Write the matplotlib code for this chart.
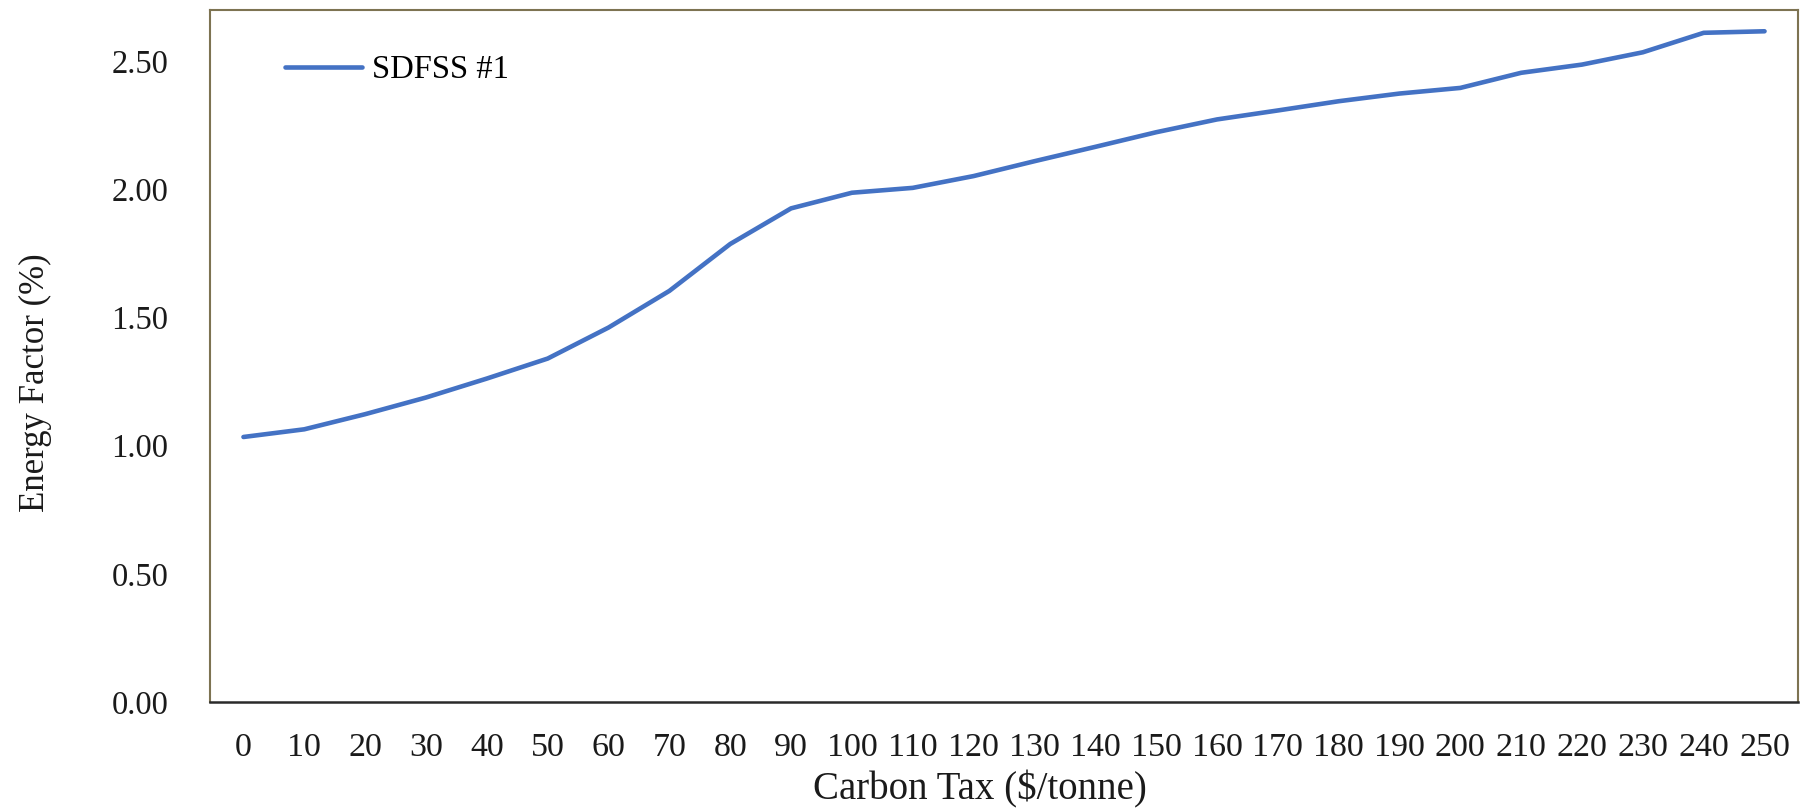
import matplotlib
matplotlib.use("Agg")
import matplotlib.pyplot as plt

carbon_tax = list(range(0, 251, 10))
tick_labels = [str(v) for v in carbon_tax]
energy_factor = [1.034, 1.064, 1.123, 1.188, 1.262, 1.340, 1.461, 1.604, 1.787,
                 1.926, 1.987, 2.006, 2.052, 2.110, 2.166, 2.223, 2.273, 2.308,
                 2.344, 2.374, 2.396, 2.455, 2.487, 2.535, 2.611, 2.617]
y_ticks = [0.0, 0.5, 1.0, 1.5, 2.0, 2.5]
series_name = "SDFSS #1"

plt.rcParams['font.family'] = ['Liberation Serif', 'DejaVu Serif']

W, H = 1801, 809
fig = plt.figure(figsize=(W / 100, H / 100), dpi=100)
ax = fig.add_axes([210 / W, 1 - 702 / H, (1798 - 210) / W, (702 - 10) / H])

x = list(range(len(carbon_tax)))
ax.plot(x, energy_factor, color='#4472C4', lw=3.3, label=series_name,
        solid_capstyle='round', solid_joinstyle='round')

ax.set_xlim(-0.55, len(carbon_tax) - 1 + 0.55)
ax.set_ylim(0, 2.70)
ax.set_xticks(x)
ax.set_xticklabels(tick_labels)
ax.set_yticks(y_ticks)
ax.set_yticklabels([f"{v:.2f}" for v in y_ticks])
ax.tick_params(axis='both', length=0, colors='#1a1a1a')
ax.tick_params(axis='x', pad=22, labelsize=24.5)
ax.tick_params(axis='y', pad=30, labelsize=23.5)

for side in ['top', 'left', 'right']:
    ax.spines[side].set_color('#7d7352')
    ax.spines[side].set_linewidth(1.5)
ax.spines['bottom'].set_color('#2a2a2a')
ax.spines['bottom'].set_linewidth(1.8)

fig.text(980 / W, 1 - 789 / H, "Carbon Tax ($/tonne)", ha='center', va='center',
         fontsize=28, color='#1a1a1a')
fig.text(35 / W, 1 - 383 / H, "Energy Factor (%)", ha='center', va='center',
         rotation=90, fontsize=25, color='#1a1a1a')

ax.legend(loc='center left', bbox_to_anchor=(285 / W, 1 - 70 / H),
          bbox_transform=fig.transFigure, frameon=False, fontsize=23.5,
          handlelength=2.36, handletextpad=0.3, borderpad=0, borderaxespad=0)

fig.savefig("out.png", dpi=100, facecolor='white')
